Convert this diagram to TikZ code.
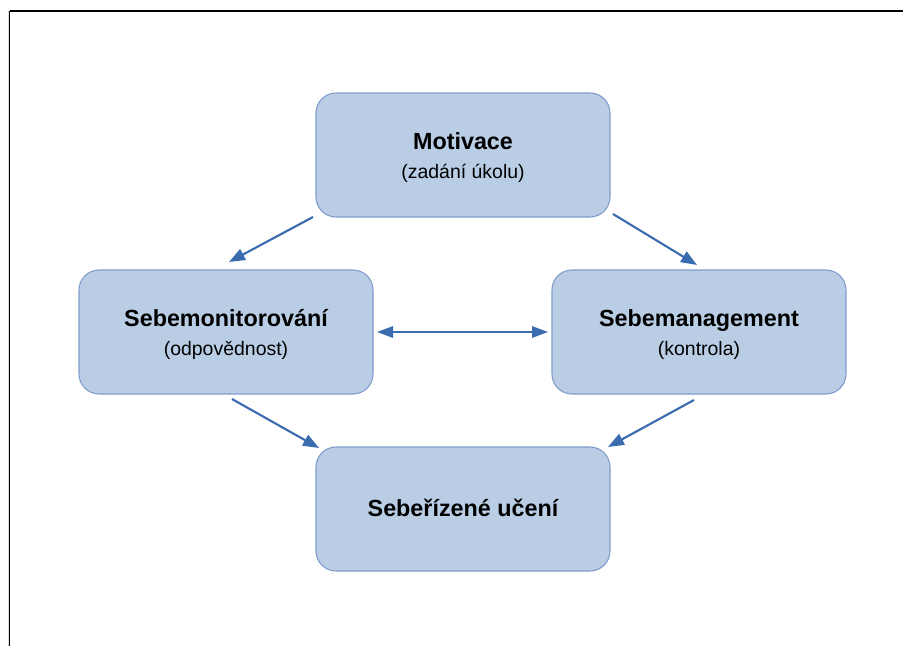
\documentclass[tikz,border=0pt]{standalone}
\usepackage{fontspec}
\setmainfont{Liberation Sans}
\usetikzlibrary{arrows.meta}

\definecolor{boxfill}{HTML}{B9CDE5}
\definecolor{boxline}{HTML}{7F9CCD}
\definecolor{arrowblue}{HTML}{3B6CB0}

\tikzset{
  stagebox/.style={draw=boxline, fill=boxfill, line width=0.8pt,
    rounded corners=15pt, minimum width=220.5pt, minimum height=93pt,
    inner sep=0pt, align=center},
  titletext/.style={font=\fontsize{17.5}{20}\selectfont\bfseries, anchor=base},
  subtext/.style={font=\fontsize{14.6}{17}\selectfont, anchor=base},
  flow/.style={draw=arrowblue, line width=1.6pt,
    -{Triangle[length=12pt,width=9pt]}},
  flowboth/.style={draw=arrowblue, line width=1.6pt,
    {Triangle[length=12pt,width=8.5pt]}-{Triangle[length=12pt,width=8.5pt]}}
}

\begin{document}
\begin{tikzpicture}[x=0.75pt,y=-0.75pt]
  \useasboundingbox (0,0) rectangle (903,646);

  % page frame
  \draw[black!15, line width=0.75pt] (8,11) -- (8,646);
  \draw[black, line width=1.2pt] (9.5,11) -- (903,11);
  \draw[black, line width=1.2pt] (9.5,11) -- (9.5,646);

  % stages
  \node[stagebox] (mot) at (463,155) {};
  \node[stagebox] (mon) at (226,332) {};
  \node[stagebox] (man) at (699,332) {};
  \node[stagebox] (uc)  at (463,509) {};

  \node[titletext] (motT) at (463,149) {Motivace};
  \node[subtext]   (motS) at (463,178) {(zadání úkolu)};
  \node[titletext] (monT) at (226,326) {Sebemonitorování};
  \node[subtext]   (monS) at (226,355) {(odpovědnost)};
  \node[titletext] (manT) at (699,326) {Sebemanagement};
  \node[subtext]   (manS) at (699,355) {(kontrola)};
  \node[titletext] (ucT)  at (463,516) {Sebeřízené učení};

  % arrow end points in the gaps between the boxes
  \coordinate (a1s) at (313,217);
  \coordinate (a1e) at (229,262);
  \coordinate (a2s) at (613,214);
  \coordinate (a2e) at (697,265);
  \coordinate (a3s) at (377,332);
  \coordinate (a3e) at (548,332);
  \coordinate (a4s) at (232,399);
  \coordinate (a4e) at (319,448);
  \coordinate (a5s) at (694,400);
  \coordinate (a5e) at (608,447);

  \draw[flow] (a1s) -- (a1e);
  \draw[flow] (a2s) -- (a2e);
  \draw[flowboth] (a3s) -- (a3e);
  \draw[flow] (a4s) -- (a4e);
  \draw[flow] (a5s) -- (a5e);
\end{tikzpicture}
\end{document}
